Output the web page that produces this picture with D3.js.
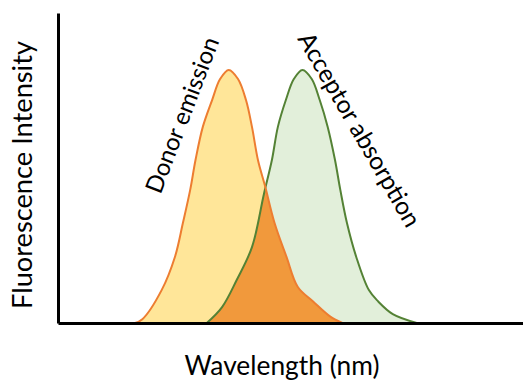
<!DOCTYPE html>
<html>
<head>
<meta charset="utf-8">
<script src="https://cdn.jsdelivr.net/npm/d3@7"></script>
<style>
  html, body { margin: 0; padding: 0; background: #fff; }
  svg { display: block; }
  text { font-family: Lato, "Open Sans", sans-serif; fill: #000; }
</style>
</head>
<body>
<svg id="chart" width="523" height="380"></svg>
<script>
// Wavelength (nm) and relative intensity
const donorWavelength = [458, 463.5, 478, 488, 494, 499.5, 503.5, 509, 516, 522, 528.5, 535.5, 541.5, 546, 550.5, 556, 563, 572, 580.5, 592, 605, 614];
const donorIntensity  = [0, 0.015, 0.130, 0.261, 0.395, 0.526, 0.644, 0.775, 0.881, 0.964, 1.0, 0.964, 0.881, 0.775, 0.644, 0.538, 0.395, 0.261, 0.142, 0.085, 0.025, 0];
const acceptorWavelength = [512, 523.5, 534.5, 546, 555, 561, 565.5, 571.5, 577.5, 584, 591, 597, 603, 608.5, 612.5, 617.5, 624.5, 634, 641, 652, 670];
const acceptorIntensity  = [0, 0.063, 0.170, 0.300, 0.510, 0.644, 0.775, 0.881, 0.964, 1.0, 0.964, 0.881, 0.775, 0.644, 0.526, 0.395, 0.261, 0.130, 0.085, 0.035, 0];
const seriesLabels = ["Donor emission", "Acceptor absorption"];
const axisLabels = ["Wavelength (nm)", "Fluorescence Intensity"];

const svg = d3.select("#chart");
const x = d3.scaleLinear().domain([400, 750]).range([58, 523]);
const y = d3.scaleLinear().domain([0, 1.225]).range([323, 13]);

const donor = donorWavelength.map((w, i) => ({w, v: donorIntensity[i]}));
const acceptor = acceptorWavelength.map((w, i) => ({w, v: acceptorIntensity[i]}));

const curve = d3.curveCatmullRom.alpha(0.5);
const area = d3.area().x(d => x(d.w)).y0(y(0)).y1(d => y(d.v)).curve(curve);
const line = d3.line().x(d => x(d.w)).y(d => y(d.v)).curve(curve);

svg.append("clipPath").attr("id", "accClip")
  .append("path").attr("d", area(acceptor));

svg.append("path").attr("d", area(donor)).attr("fill", "#FFE699");
svg.append("path").attr("d", area(acceptor)).attr("fill", "#E2EFDA");
svg.append("path").attr("d", area(donor)).attr("fill", "#F1993C").attr("clip-path", "url(#accClip)");

svg.append("path").attr("d", line(acceptor)).attr("fill", "none")
  .attr("stroke", "#548235").attr("stroke-width", 2);
svg.append("path").attr("d", line(donor)).attr("fill", "none")
  .attr("stroke", "#ED7D31").attr("stroke-width", 2);

// axes (no ticks)
svg.append("g").attr("transform", `translate(0,${y(0)})`)
  .call(d3.axisBottom(x).tickValues([]).tickSizeOuter(0));
svg.append("g").attr("transform", `translate(${x(400)},0)`)
  .call(d3.axisLeft(y).tickValues([]).tickSizeOuter(0));
svg.selectAll(".domain").attr("stroke", "#000").attr("stroke-width", 3);

function fitText(sel, target) {
  const base = 20;
  sel.attr("font-size", base);
  const len = sel.node().getComputedTextLength();
  sel.attr("font-size", base * target / len);
}

// axis titles
const xt = svg.append("text").attr("x", 282).attr("y", 375)
  .attr("text-anchor", "middle").text(axisLabels[0]);
fitText(xt, 195);

const yt = svg.append("text").attr("transform", "translate(32,175) rotate(-90)")
  .attr("text-anchor", "middle").text(axisLabels[1]);
fitText(yt, 268);

// series labels
const dl = svg.append("text").attr("transform", "translate(190,118) rotate(-69)")
  .attr("text-anchor", "middle").text(seriesLabels[0]);
fitText(dl, 165);

const al = svg.append("text").attr("transform", "translate(352,134) rotate(60)")
  .attr("text-anchor", "middle").text(seriesLabels[1]);
fitText(al, 220);
</script>
</body>
</html>
